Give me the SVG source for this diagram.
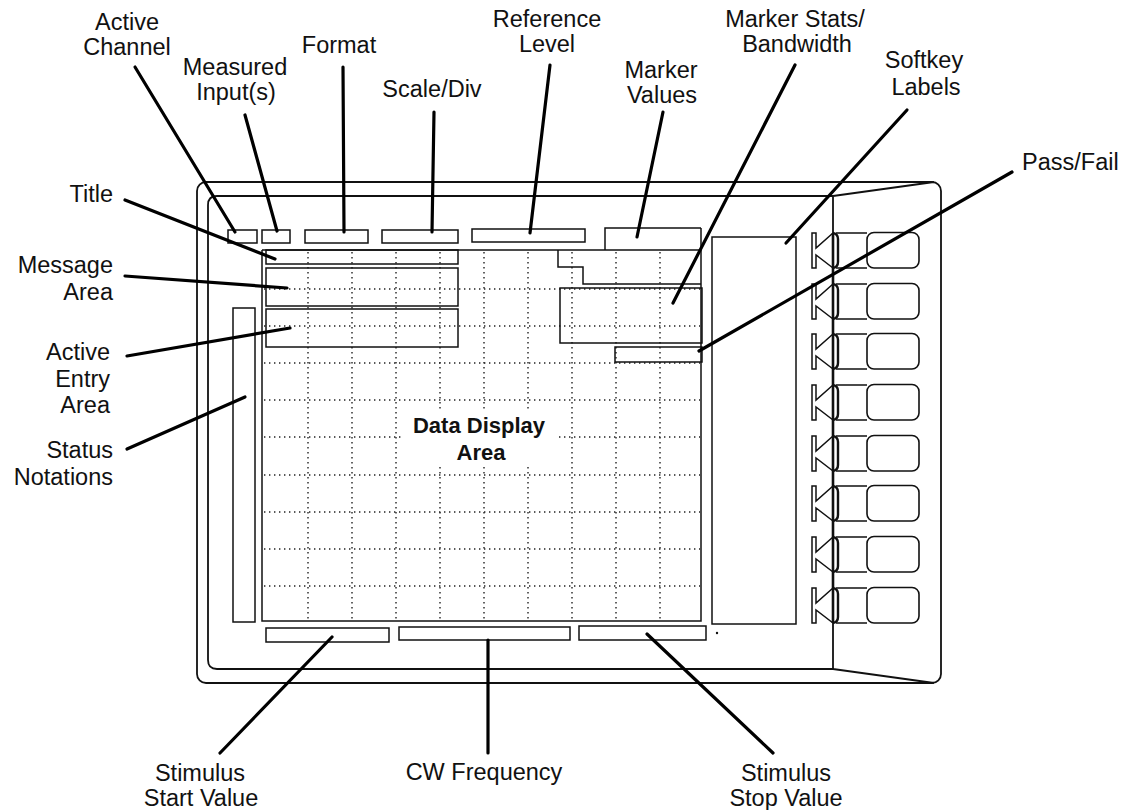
<svg xmlns="http://www.w3.org/2000/svg" width="1130" height="810" viewBox="0 0 1130 810">
<style>
.lbl{font-family:"Liberation Sans",Arial,sans-serif;font-size:23.5px;fill:#111}
.c{text-anchor:middle}
.e{text-anchor:end}
.big{font-family:"Liberation Sans",Arial,sans-serif;font-size:22px;font-weight:bold;fill:#111;text-anchor:middle}
.fr{fill:none;stroke:#111;stroke-width:1.8}
.bx{fill:none;stroke:#111;stroke-width:1.5}
.dot{fill:none;stroke:#222;stroke-width:1.4;stroke-dasharray:1.4 3.6}
.ld{fill:none;stroke:#000;stroke-width:3.2;stroke-linecap:round}
</style>
<defs>
<g id="key" fill="none" stroke="#111">
<path d="M833,0 L816,15 V0 H812 V35 H816 V22 L833,35" stroke-width="1.5"/>
<path d="M833,0 Q838,1 838,6 V29 Q838,34 833,35" stroke-width="2.4"/>
<path d="M836,0 H867 M836,35 H867" stroke-width="1.5"/>
<rect x="867" y="-0.5" width="52" height="35.5" rx="7" stroke-width="1.6"/>
</g>
</defs>
<rect width="1130" height="810" fill="#fff"/>

<g id="frame">
<rect class="fr" x="197" y="182" width="744" height="501" rx="9"/>
<path class="fr" d="M833,196 H217 Q208,196 208,205 V660 Q208,669 217,669 H833"/>
<path class="fr" d="M833,196 L934,182 M833,669 L934,683 M833,196 V669"/>
<path d="M833,233 V623" stroke="#111" stroke-width="2.6"/>
</g>

<g id="grid">
<g class="dot">
<path d="M308,252 V620 M352,252 V620 M396,252 V620 M440,252 V620 M484,252 V620 M528,252 V620 M572,252 V620 M616,252 V620 M660,252 V620"/>
<path d="M264,289 H700 M264,326 H700 M264,363 H700 M264,400 H700 M264,437 H700 M264,475 H700 M264,512 H700 M264,549 H700 M264,586 H700"/>
</g>
<path class="bx" d="M262,250 V621 H701 V228 M262,250 H701"/>
</g>

<g id="header-boxes">
<rect class="bx" x="228" y="230" width="29" height="13"/>
<rect class="bx" x="262" y="230" width="28" height="13"/>
<rect class="bx" x="305" y="230" width="63" height="13"/>
<rect class="bx" x="382" y="230" width="76" height="13"/>
<rect class="bx" x="472" y="229" width="113" height="13"/>
<path class="bx" d="M605,250 V228 H701"/>
</g>

<g id="title-box"><rect class="bx" x="266" y="250" width="192" height="14"/></g>
<g id="message-box"><rect class="bx" x="266" y="268" width="192" height="38"/></g>
<g id="entry-box"><rect class="bx" x="266" y="309" width="192" height="38"/></g>
<g id="status-bar"><rect class="bx" x="233" y="308" width="22" height="314"/></g>
<g id="marker-values-area"><path class="bx" d="M558,250 V267 H583 V284 H701"/></g>
<g id="marker-stats-box"><rect class="bx" x="560" y="288" width="142" height="55"/></g>
<g id="pass-fail-box"><rect class="bx" x="615" y="347" width="87" height="15"/></g>
<g id="softkey-label-box"><rect class="bx" x="712" y="237" width="84" height="387"/></g>
<g id="bottom-boxes">
<rect class="bx" x="266" y="628" width="123" height="14"/>
<rect class="bx" x="399" y="627" width="171" height="13"/>
<rect class="bx" x="579" y="626" width="127" height="14"/>
<circle cx="717" cy="633" r="1.2" fill="#111"/>
</g>

<g id="softkeys">
<use href="#key" transform="translate(0,233)"/>
<use href="#key" transform="translate(0,284)"/>
<use href="#key" transform="translate(0,334)"/>
<use href="#key" transform="translate(0,385)"/>
<use href="#key" transform="translate(0,436)"/>
<use href="#key" transform="translate(0,486)"/>
<use href="#key" transform="translate(0,537)"/>
<use href="#key" transform="translate(0,588)"/>
</g>

<g id="data-display-area">
<rect x="402" y="411" width="156" height="55" fill="#fff"/>
<text class="big" x="479" y="433">Data Display</text>
<text class="big" x="481" y="460">Area</text>
</g>

<g id="connectors">
<line class="ld" x1="135" y1="67" x2="235" y2="232"/>
<line class="ld" x1="245" y1="115" x2="277" y2="231"/>
<line class="ld" x1="343" y1="67" x2="344" y2="232"/>
<line class="ld" x1="434" y1="112" x2="432" y2="232"/>
<line class="ld" x1="550" y1="65" x2="530" y2="233"/>
<line class="ld" x1="663" y1="112" x2="637" y2="237"/>
<line class="ld" x1="795" y1="65" x2="673" y2="303"/>
<line class="ld" x1="907" y1="110" x2="786" y2="243"/>
<line class="ld" x1="1012" y1="172" x2="699" y2="351"/>
<line class="ld" x1="125" y1="200" x2="275" y2="259"/>
<line class="ld" x1="125" y1="276" x2="287" y2="288"/>
<line class="ld" x1="127" y1="356" x2="290" y2="328"/>
<line class="ld" x1="127" y1="449" x2="245" y2="397"/>
<line class="ld" x1="220" y1="753" x2="332" y2="637"/>
<line class="ld" x1="488" y1="753" x2="488" y2="640"/>
<line class="ld" x1="773" y1="753" x2="647" y2="634"/>
</g>

<g id="labels">
<text class="lbl c" x="127" y="30">Active</text>
<text class="lbl c" x="127" y="55">Channel</text>
<text class="lbl c" x="235" y="75">Measured</text>
<text class="lbl c" x="236" y="100">Input(s)</text>
<text class="lbl c" x="339" y="53">Format</text>
<text class="lbl c" x="432" y="97">Scale/Div</text>
<text class="lbl c" x="547" y="27">Reference</text>
<text class="lbl c" x="547" y="52">Level</text>
<text class="lbl c" x="661" y="78">Marker</text>
<text class="lbl c" x="662" y="103">Values</text>
<text class="lbl c" x="795" y="27">Marker Stats/</text>
<text class="lbl c" x="797" y="52">Bandwidth</text>
<text class="lbl c" x="924" y="68">Softkey</text>
<text class="lbl c" x="926" y="95">Labels</text>
<text class="lbl" x="1022" y="170">Pass/Fail</text>
<text class="lbl e" x="113" y="202">Title</text>
<text class="lbl e" x="113" y="273">Message</text>
<text class="lbl e" x="113" y="300">Area</text>
<text class="lbl e" x="110" y="360">Active</text>
<text class="lbl e" x="110" y="387">Entry</text>
<text class="lbl e" x="110" y="413">Area</text>
<text class="lbl e" x="113" y="458">Status</text>
<text class="lbl e" x="113" y="485">Notations</text>
<text class="lbl c" x="200" y="781">Stimulus</text>
<text class="lbl c" x="201" y="806">Start Value</text>
<text class="lbl c" x="484" y="780">CW Frequency</text>
<text class="lbl c" x="786" y="781">Stimulus</text>
<text class="lbl c" x="786" y="806">Stop Value</text>
</g>
</svg>
